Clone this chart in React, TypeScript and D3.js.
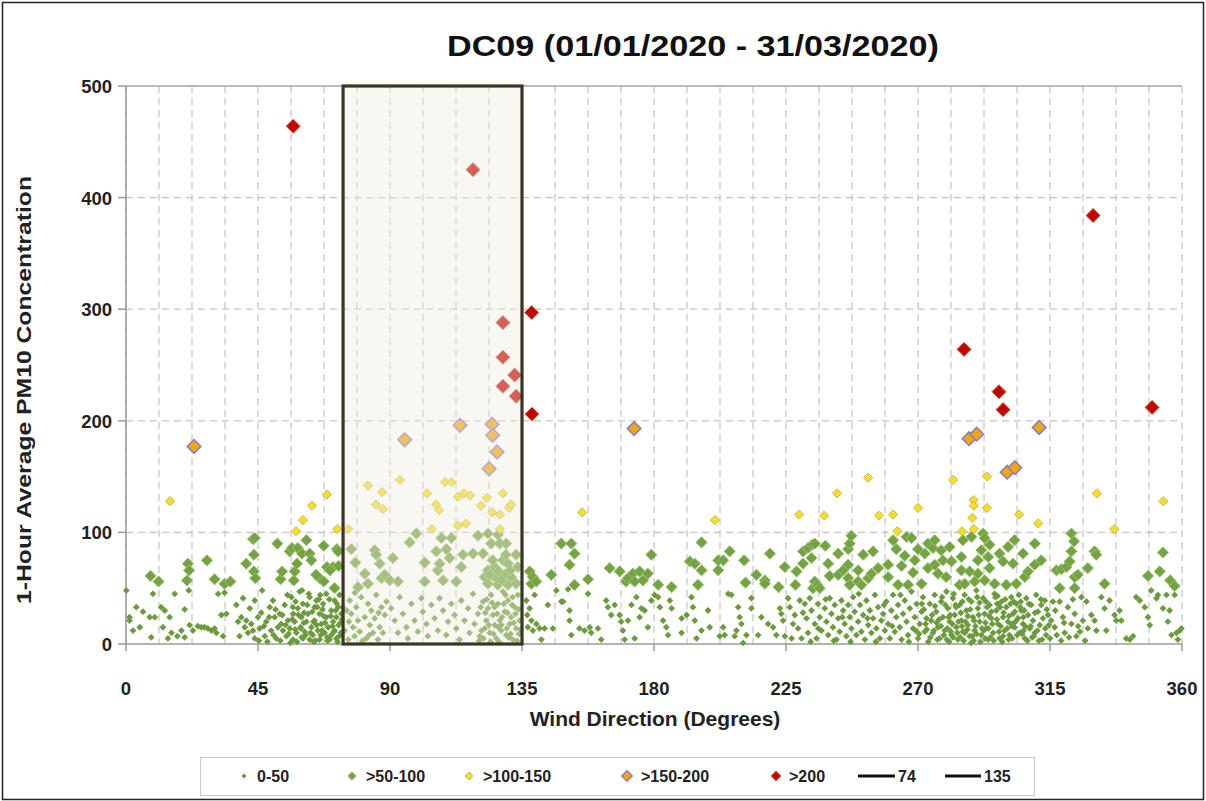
import React from "react";
import * as d3 from "d3";

const TITLE = "DC09 (01/01/2020 - 31/03/2020)";
const X_LABEL = "Wind Direction (Degrees)";
const Y_LABEL = "1-Hour Average PM10 Concentration";
const X_TICKS = [0, 45, 90, 135, 180, 225, 270, 315, 360];
const Y_TICKS = [0, 100, 200, 300, 400, 500];
const BOX_FROM = 74;
const BOX_TO = 135;

// 0-50
const lowPts: [number, number][] = [
[0.1,48],[1.2,24],[1.2,21],[2.4,12],[3.5,33],[4.7,15],[5.8,29],[8.1,24],[8.6,6],[9.2,45],[9.8,24],[12,33],[12.6,15],[13.2,30],[14.3,5],[14.9,24],[15.5,10],[16.6,45],[17.5,7],[18.9,12],[20,31],[20,6],[21.4,48],[21.7,17],[22.8,12],[24.5,16],[25.7,15],[26.8,15],[27.9,14],[29.1,12],[30.2,14],[30.8,10],[31.4,45],[32.5,26],[33.1,7],[33.6,46],[34.2,27],[37.6,35],[38.2,20],[38.7,7],[39.9,41],[39.3,24],[40.5,15],[41,21],[41.6,10],[42.2,32],[42.7,18],[43.3,12],[43.9,39],[43.9,5],[45,24],[45.6,14],[46.4,48],[47.3,7],[47.8,20],[49,33],[49.5,12],[50.1,39],[50.7,24],[51.2,5],[52.4,27],[52.9,18],[53.5,12],[54.1,35],[54.7,7],[55.2,21],[55.8,14],[56.4,42],[57,27],[57,4],[57.5,20],[58.1,10],[58.6,32],[59.2,47],[59.5,15],[59.8,24],[60.3,36],[60.3,5],[60.9,11],[61.5,20],[62,27],[62.6,42],[62.6,4],[63.2,15],[63.7,8],[64.3,33],[64.3,21],[64.9,39],[65.4,12],[66,27],[66,4],[66.6,18],[67.2,36],[67.7,10],[68.3,24],[68.3,45],[68.9,15],[69.4,4],[70,30],[70,8],[70.6,20],[71.1,39],[71.1,12],[71.7,24],[71.7,5],[72.3,33],[72.5,17],[72.8,44],[73.2,10],[73.4,27],
[55.4,9],[56.7,22],[57.8,38],[58.3,2],[59.6,14],[60.7,28],[61.2,8],[62.3,45],[63.9,20],[64.6,3],[65.2,33],[66.8,12],[67.4,25],[68.6,6],[69.3,40],[70.4,16],[71.5,30],[72.1,2],[73.6,22],[60,48],[66.2,44],
[45.3,3],[46.1,28],[47,16],[48.2,2],[48.8,24],[50.3,8],[51,31],[51.8,15],[52.6,3],[53.3,26],[54.4,17],[55,44],[56,1],[56.9,33],[57.7,13],[58.8,26],[59.9,6],[60.6,19],[61.8,35],[62.9,10],[63.5,29],[64,2],[65,17],[65.8,40],[66.4,8],[67,31],[67.9,19],[68.7,3],[69.8,25],[70.9,11],[71.9,36],[72.7,7],[73.1,19],[73.8,33],
[76.3,39],[76.8,27],[77.4,15],[77.9,7],[78.5,33],[79.1,21],[79.7,11],[80.2,42],[81.4,24],[81.9,5],[82.5,36],[83.1,17],[83.6,30],[84.2,10],[84.8,23],[85.3,44],[85.9,4],[86.5,15],[87.1,33],[87.6,10],[88.2,26],[88.8,38],
[74.5,12],[75.2,30],[75.8,4],[76,20],[78,46],[80.6,3],[82.9,8],[86.1,28],
[90.4,32],[91.6,21],[92.7,10],[93.3,42],[94.4,27],[95.6,15],[96.1,5],[97.3,36],[98.4,21],[99.5,11],[100.7,41],[101.2,29],[102.4,18],[102.9,7],[104.1,35],[105.2,23],[106.3,12],[106.9,41],[108.1,30],[109.2,8],[109.8,20],[110.9,36],[112,26],[112.6,14],[113.7,4],[114.3,39],[115.4,21],[116.6,32],[117.1,10],[118.3,45],[118.8,18],[120,27],[120.6,7],[121.7,38],[122.3,14],[122.8,21],[123.4,32],[124,10],[124.5,44],[125.1,26],[125.7,17],[126.2,5],[126.8,36],[127.4,21],[127.9,12],[128.5,47],[129.1,29],[129.6,8],[130.2,39],[130.8,18],[131.3,24],[131.9,4],[132.5,33],[133,14],[133.6,44],[134.2,21],
[120.4,3],[121.2,12],[123,40],[124.3,2],[125.6,33],[126.9,15],[128.2,24],[129.4,44],[130.5,6],[131.6,35],[132.8,27],[134,9],
[120.9,33],[121.9,5],[122.5,28],[123.7,17],[124.8,37],[125.3,9],[126.5,27],[127.2,2],[128,17],[128.8,36],[129.8,14],[130,28],[131.1,9],[131.8,42],[132.2,19],[133.3,3],[133.9,31],[134.5,13],
[136.5,39],[136.8,26],[137,15],[137.6,32],[138.2,21],[138.7,12],[139.3,44],[139.9,18],[141,14],[141.6,4],[142.7,14],[143.8,35],[145.5,14],[146.7,48],[148.4,38],[149,38],[150.7,49],[151.2,30],[151.2,21],[151.8,8],[154.6,14],[156.3,12],[157.5,45],[158.1,15],[158.6,10],[160.9,14],[162,4],[163.7,39],[164.3,33],[165.4,26],[166.6,35],[168.3,26],[168.8,20],[169.4,12],[170,4],[171.1,21],[172.3,35],[173.4,5],[174,42],[175.1,24],[175.7,32],[176.8,30],[177.9,15],[179.1,39],[180.2,44],
[181.4,42],[182,33],[183.1,21],[185.4,39],[186,32],[184.2,15],[184.8,8],[189.4,23],[189.4,10],[191.1,26],[192.8,42],[193.3,33],[193.9,21],[194.5,5],[196.2,12],[198.4,30],[199,15],[202.4,7],[203.6,15],[204.1,8],[205.3,45],[206.4,44],[207.5,7],[208.1,12],[208.7,33],[209.2,24],[209.8,18],[210.4,1],[211.5,8],[213.2,41],[213.2,32],[215.5,8],[216.6,24],[218.9,18],[220.6,15],[221.7,8],[222.9,32],[223.4,27],[224,21],[224.6,7],[225.7,41],[226.3,33],[226.9,5],[227.4,18],[228,26],[229.1,14],[229.7,39],[230.3,5],[231.4,36],[232,23],[232.5,10],[233.1,41],[233.7,30],[234.8,18],[235.4,5],[235.9,36],[236.5,24],[237.1,12],[238.2,32],[238.8,20],[239.4,8],[239.9,41],[240.5,27],[241,15],[241.6,35],[242.2,4],[242.8,23],[243.3,11],[243.9,39],[244.5,30],[245,18],[245.6,7],[246.2,35],[246.7,24],[247.3,14],[247.9,42],[248.4,29],[249,8],[249.6,20],[250.2,35],[250.7,11],[251.3,26],[251.9,4],[252.4,39],[253,17],[253.6,30],[254.1,10],[254.7,23],[255.3,44],[255.8,14],[256.4,33],[257,5],[257.5,21],[258.1,27],[258.7,12],[259.2,38],[259.8,18],[260.4,5],[260.9,30],[261.5,44],[262.1,11],[262.6,24],[263.2,35],[263.8,15],[264.4,4],[264.9,27],[265.5,39],[266.1,20],[266.6,8],[267.2,32],[267.8,47],[268.3,14],[268.9,24],[269.5,36],[270,5],[270.6,18],[271.2,29],[271.7,42],[272.3,11],[272.9,23],
[230.8,28],[233.4,2],[236,14],[238.5,40],[241.3,3],[244.2,24],[247,2],[249.8,45],[252.8,23],[255.6,2],[258.4,35],[261.2,16],[264,44],[266.9,2],[269.2,12],
[274,36],[274.5,21],[275.1,10],[275.7,44],[276.2,29],[276.8,15],[277.4,5],[277.9,38],[278.5,24],[279.1,12],[279.7,47],[280.2,32],[280.8,20],[281.4,8],[281.9,41],[282.5,26],[283.1,15],[283.6,4],[284.2,35],[284.8,21],[285.3,11],[285.9,44],[286.5,30],[287,17],[287.6,7],[288.2,38],[288.7,24],[289.3,12],[289.9,48],[290.4,32],[291,20],[291.6,8],[292.2,41],[292.7,27],[293.3,14],[293.9,4],[294.4,35],[295,23],[295.6,10],[296.1,45],[296.7,30],[297.3,18],[297.8,5],[298.4,38],[299,24],[299.5,12],[300.1,33],[300.7,20],[301.2,8],[301.8,42],[302.4,27],[302.9,15],[303.5,36],[304.1,23],[304.7,10],[305.2,30],[305.8,18],[306.4,5],[306.9,41],[307.5,26],[308.1,14],[308.6,35],[309.2,21],[309.8,10],[310.3,44],[310.9,29],[311.5,17],[312,35],[312.6,23],[313.2,39],[313.7,8],[314.3,26],[315.4,21],[316.6,15],[318.3,38],[319.4,24],[320,10],[321.1,33],[322.3,18],[323.4,27],[324,7],[325.7,42],[326.2,21],[327.4,38],[327.9,14],[329.1,26],[330.2,21],[330.8,12],[332.5,42],[333.6,32],[334.2,12],[335.3,39],[337,26],[337.6,21],[338.7,30],[339.3,21],[341,5],[342.2,4],[343.3,7],[344.4,42],[345.6,39],[347.3,33],[348.4,24],[349,17],[349.5,48],[351.3,41],[351.8,44],[353.5,32],[354.7,44],[355.2,20],[356.4,8],[357.5,44],[358.1,10],[359.2,12],[359.8,14],
[270.4,9],[271.3,36],[272.6,18],[273.5,2],[274.8,26],[275.4,12],[276.6,4],[277.2,22],[278.8,8],[279.3,35],[280.6,2],[281.7,18],[282.2,45],[283.4,10],[284.6,28],[285.6,3],[286.2,20],[287.3,40],[288.5,7],[289.6,16],[290.7,26],[291.3,2],[292.4,12],[293.6,33],[294.7,6],[295.3,18],[296.4,42],[297.6,11],[298.7,2],[299.2,28],[300.4,14],[301.5,36],[302.1,5],[303.2,20],[304.4,44],[305.5,9],[306.2,30],[307.3,3],[308.4,16],[309.5,7],[311.2,3],[313.4,14],[315,5],[316.8,30],[318.8,3],[321.5,6],[324.6,16],[327,3],
[280,14],[281,26],[283,33],[285,16],[287,25],[289,3],[291,37],[293,19],[295,29],[297,36],[299,7],[301,25],[303,29],[305,38],[282,6],[286,10],[290,9],[294,14],[298,33],[302,16],[306,12],
[272,31],[273,13],[274.2,6],[275.8,34],[276.3,19],[277.8,16],[278.2,42],[279.8,4],[280.4,24],[281.2,11],[282.8,35],[283.8,20],[284.4,6],[285.1,38],[286.8,13],[287.8,31],[288.1,1],[289.1,21],[290.2,42],[291.8,14],[292.9,5],[293.2,38],[294.2,25],[295.8,3],[296.9,22],[297.1,43],[298.2,16],[299.7,40],[300.9,4],[301.9,18],[302.7,38],[303.8,8],[304.9,33],[305.9,24],[306.6,16],[307.8,36],[308.9,6],[309.9,28],[310.7,12],[311.9,40],[312.3,4],[313.9,31],[314.6,17],[316,38],[317.3,8],[319.8,19],[322.8,40],[325.2,11],
[355.8,30],[358.6,4]
];

// >50-100
const midPts: [number, number][] = [
[8.4,61],[11.1,56],[20.8,57],[21.1,72],[21.5,66],[27.6,75],[30.2,58],[33.6,54],[35.6,56],[41,72],[43.3,94],[43.9,95],[43.6,80],[43.6,65],[44.1,59],[51.6,90],[52.7,58],[53.2,65],[55.8,83],[56.6,86],[57.2,57],[57.5,65],[58.3,72],[58.6,86],[60,81],[61.5,93],[62.6,81],[63.2,75],[66,59],[67.4,88],[67.4,56],[68.5,69],[70.6,69],[71.1,50],[71.9,85],[72.3,83],[69.5,66],[72.5,70],[64.8,62],
[76.8,85],[78.2,73],[79.1,51],[81.4,63],[82.5,54],[84.8,84],[85.3,80],[86.5,72],[87.1,59],[88.2,62],
[89.9,57],[91,77],[92.7,56],[96.7,91],[99,99],[101.8,73],[101.8,56],[105.8,83],[106.3,66],[106.9,72],[107.5,95],[108.1,57],[109.2,85],[110.3,77],[110.9,95],[112.6,56],[114.3,69],[114.9,80],[118.3,81],[120,97],[121.7,81],[122.3,60],[123.4,99],[123.4,66],[123.4,54],[124.5,90],[125.7,69],[125.7,60],[126.8,98],[126.8,53],[127.4,90],[128.5,75],[129.1,62],[129.6,90],[130.2,72],[130.2,53],[131.3,60],[133,80],[133,54],[133.6,69],[125,75],[127,65],[128,57],[131,66],[124,62],[129.5,80],
[137.6,65],[138.2,54],[138.7,60],[139.9,56],[145,62],[148.4,90],[151.2,71],[151.8,90],[152.9,81],[152.9,53],[157.5,58],[164.9,68],[168.3,65],[170.5,56],[171.1,59],[172.8,63],[173.4,56],[175.1,65],[176.2,57],[177.9,63],[179.1,80],
[181.4,53],[186,51],[192.2,74],[193.9,72],[195,53],[196.2,91],[196.2,66],[201.9,75],[201.9,66],[203.6,75],[205.8,83],[210.7,75],[211.2,55],[214.9,62],[217.8,57],[217.8,54],[219.5,81],[222.5,51],[224.6,69],[228.2,53],[228.6,65],[230.8,83],[230.8,72],[232.5,86],[233.7,77],[233.9,89],[234.2,50],[234.8,90],[234.8,56],[235.7,53],[236.5,50],[238.4,88],[239.4,72],[239.9,61],[242.8,81],[242.8,62],[244.5,66],[246.2,85],[246.2,71],[246.2,59],[246.7,90],[246.7,53],[247.3,97],[249.6,66],[249.6,56],[250.7,53],[251.3,80],[253,59],[254.1,63],[254.7,83],[256.4,68],[259.8,71],[259.8,60],[261.5,93],[262.6,85],[263.2,53],[264.4,70],[265.5,79],[266.1,96],[266.6,53],[267.8,95],[268.3,64],[268.9,75],[270,85],[271.2,54],[272.3,81],
[273.4,90],[273.4,68],[275.1,86],[275.7,93],[275.7,71],[276.8,63],[277.9,84],[278.5,75],[279.6,60],[280.8,87],[281.4,74],[284.2,53],[284.8,78],[284.8,66],[285.3,93],[285.9,54],[287.6,65],[288.2,96],[289.3,56],[290.4,75],[290.4,63],[291.6,84],[292.2,99],[292.7,95],[292.7,57],[293.9,78],[294.4,89],[294.4,68],[296.1,54],[297.8,81],[299,74],[300.1,53],[300.7,87],[302.4,72],[302.9,93],[303.5,54],[305.8,81],[306.4,60],[307.5,65],[309.8,90],[309.8,71],[312,75],[317.2,66],[318.3,50],[318.9,67],[320.6,69],[321.7,74],[322.3,99],[322.3,83],[323.2,92],[323.4,60],[323.4,50],[324.5,62],[327.9,68],[330.2,83],[330.8,80],[333.6,54],[348.4,61],[352.4,65],[353.5,82],[356,57],[357.5,52]
];

// >100-150
const highPts: [number, number][] = [
[15,128],[58,101],[60.3,111],[63.4,124],[68.5,134],[72,103],[75.7,103],[82.5,142],[87.3,136],[85.2,125],[87.6,121],[93.4,147],
[102.6,135],[105.7,125],[106.7,120],[108.8,145],[111,145],[113.2,132],[115.2,135],[117.3,133],[104.3,103],[113.2,106],[115.9,108],[121,124],[123,131],[124.8,118],[127.5,116],[128.5,135],[130.6,122],[131.3,125],[127.5,103],
[155.5,118],[200.8,111],[229.5,116],[238,115],[242.4,135],[253,149],[256.7,115],[261.5,116],[263,101],[270,122],[282,147],[285,101],[289,129],[289,124],[288.5,113],[289,103],[293.5,150],[293.5,122],[304.5,116],[311,108],[331,135],[336.9,103],[353.6,128]
];

// >150-200
const vhighPts: [number, number][] = [
[23.2,177],[95,183],[113.9,196],[124.8,197],[125,187],[126.5,172],[123.8,157],[173.2,193],[287.4,184],[290,188],[300.4,154],[303,158],[311.3,194]
];

// >200
const extremePts: [number, number][] = [
[57,464],[118.3,425],[128.5,288],[128.5,257],[128.5,231],[132.5,241],[133,222],[138.3,297],[138.4,206],[285.7,264],[297.6,226],[299,210],[329.7,384],[349.8,212]
];

const FONT = "'Liberation Sans', Arial, sans-serif";

function diamond(r: number) {
  return `M0,${-r}L${r},0L0,${r}L${-r},0Z`;
}

export default function App() {
  const x = d3.scaleLinear().domain([0, 360]).range([126, 1182]);
  const y = d3.scaleLinear().domain([0, 500]).range([644, 86]);
  const minor = d3.range(0, 360.01, 11.25);

  const series = [
    { data: lowPts, r: 3.4, fill: "#6c9b3c", stroke: "none", sw: 0, label: "0-50" },
    { data: midPts, r: 5.6, fill: "#74a441", stroke: "#9cbf73", sw: 1, label: ">50-100" },
    { data: highPts, r: 4.6, fill: "#f3e11a", stroke: "#c9b46a", sw: 1, label: ">100-150" },
    { data: vhighPts, r: 6.8, fill: "#f5a500", stroke: "#8b7fc4", sw: 1.6, label: ">150-200" },
    { data: extremePts, r: 7.2, fill: "#c80000", stroke: "#b99a6a", sw: 1, label: ">200" },
  ];

  const legendItems = [
    { kind: 0, mx: 244, tx: 257 },
    { kind: 1, mx: 352, tx: 366 },
    { kind: 2, mx: 469, tx: 483 },
    { kind: 3, mx: 627, tx: 641 },
    { kind: 4, mx: 776, tx: 789 },
  ];

  return (
    <svg width={1206} height={801} style={{ position: "absolute", left: 0, top: 0, background: "#fff" }} fontFamily={FONT}>
      <rect x={2.5} y={2.5} width={1201} height={797} fill="#fff" stroke="#222" strokeWidth={1.5} />
      <text x={693} y={56} textAnchor="middle" fontSize={29} fontWeight="bold" textLength={492} lengthAdjust="spacingAndGlyphs" fill="#111">{TITLE}</text>

      {minor.map((d, i) => (
        <line key={"v" + i} x1={x(d)} x2={x(d)} y1={y(500)} y2={y(0)} stroke="#c4c4c4" strokeWidth={1.2} strokeDasharray="7,5" />
      ))}
      {Y_TICKS.filter((t) => t > 0 && t < 500).map((t) => (
        <line key={"h" + t} x1={x(0)} x2={x(360)} y1={y(t)} y2={y(t)} stroke="#c4c4c4" strokeWidth={1.2} strokeDasharray="7,5" />
      ))}
      <line x1={x(0)} x2={x(360)} y1={y(500)} y2={y(500)} stroke="#a6a6a6" strokeWidth={1.5} />

      <line x1={x(0)} x2={x(0)} y1={y(500)} y2={y(0)} stroke="#9a9a9a" strokeWidth={1.5} />
      <line x1={x(0)} x2={x(360)} y1={y(0)} y2={y(0)} stroke="#9a9a9a" strokeWidth={1.5} />
      {Y_TICKS.map((t) => (
        <g key={"yt" + t}>
          <line x1={x(0) - 8} x2={x(0)} y1={y(t)} y2={y(t)} stroke="#9a9a9a" strokeWidth={1.5} />
          <text x={112} y={y(t) + 7} textAnchor="end" fontSize={18.5} fontWeight="bold" fill="#222">{t}</text>
        </g>
      ))}
      {X_TICKS.map((t) => (
        <g key={"xt" + t}>
          <line x1={x(t)} x2={x(t)} y1={y(0)} y2={y(0) + 7} stroke="#9a9a9a" strokeWidth={1.5} />
          <text x={x(t)} y={695} textAnchor="middle" fontSize={18.5} fontWeight="bold" fill="#222">{t}</text>
        </g>
      ))}
      <text x={655} y={726} textAnchor="middle" fontSize={21} fontWeight="bold" fill="#222">{X_LABEL}</text>
      <text transform="translate(31,390) rotate(-90)" textAnchor="middle" fontSize={21} fontWeight="bold" fill="#222" textLength={428} lengthAdjust="spacingAndGlyphs">{Y_LABEL}</text>

      {series.map((s, si) => (
        <g key={"s" + si}>
          {s.data.map((p, i) => (
            <path key={i} d={diamond(s.r)} transform={`translate(${x(p[0])},${y(p[1])})`} fill={s.fill} stroke={s.stroke} strokeWidth={s.sw} />
          ))}
        </g>
      ))}

      <rect x={x(BOX_FROM)} y={y(500)} width={x(BOX_TO) - x(BOX_FROM)} height={y(0) - y(500)} fill="rgb(240,234,222)" fillOpacity={0.4} stroke="#3b3525" strokeWidth={3.2} />

      <rect x={200.5} y={757.5} width={834} height={38} fill="#fff" stroke="#c8c8c8" strokeWidth={1} />
      {legendItems.map((li) => {
        const s = series[li.kind];
        const r = li.kind === 0 ? 2.5 : li.kind === 1 ? 4.2 : li.kind === 2 ? 4 : 5.2;
        return (
          <g key={"l" + li.kind}>
            <path d={diamond(r)} transform={`translate(${li.mx},776)`} fill={s.fill} stroke={s.stroke} strokeWidth={s.sw} />
            <text x={li.tx} y={782} fontSize={16} fontWeight="bold" fill="#222">{s.label}</text>
          </g>
        );
      })}
      <line x1={858} x2={895} y1={776} y2={776} stroke="#111" strokeWidth={3} />
      <text x={898} y={782} fontSize={16} fontWeight="bold" fill="#222">{BOX_FROM}</text>
      <line x1={945} x2={981} y1={776} y2={776} stroke="#111" strokeWidth={3} />
      <text x={984} y={782} fontSize={16} fontWeight="bold" fill="#222">{BOX_TO}</text>
    </svg>
  );
}
